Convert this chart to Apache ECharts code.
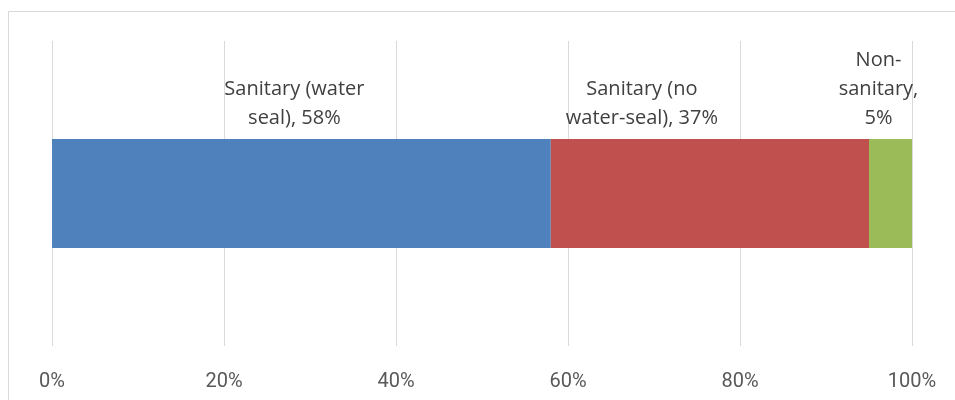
<!DOCTYPE html>
<html>
<head>
<meta charset="utf-8">
<script src="https://cdn.jsdelivr.net/npm/echarts@6/dist/echarts.min.js"></script>
<style>
  html, body { margin: 0; padding: 0; background: #fff; }
  #chart { width: 955px; height: 400px; }
</style>
</head>
<body>
<div id="chart"></div>
<script>
// data
var seriesNames = ['Sanitary (water seal)', 'Sanitary (no water-seal)', 'Non-sanitary'];
var labelText = ['Sanitary (water\nseal),', 'Sanitary (no\nwater-seal),', 'Non-\nsanitary,\n'];
var shares = [58, 37, 5];
var colors = ['#4F81BD', '#C0504D', '#9BBB59'];
var labelShift = [-7, -68, -12];
var tickValues = [0, 20, 40, 60, 80, 100];

var chart = echarts.init(document.getElementById('chart'));

var series = seriesNames.map(function (name, i) {
  return {
    name: name,
    type: 'bar',
    stack: 'total',
    barWidth: 109,
    itemStyle: { color: colors[i] },
    label: {
      show: true,
      position: 'top',
      distance: 6,
      offset: [labelShift[i], 0],
      align: 'center',
      color: '#404040',
      fontFamily: 'Open Sans',
      fontSize: 20,
      lineHeight: 29,
      formatter: function () {
        var sep = labelText[i].slice(-1) === '\n' ? '' : ' ';
        return labelText[i] + sep + shares[i] + '%';
      }
    },
    data: [shares[i]]
  };
});

var option = {
  animation: false,
  grid: {
    left: 52,
    right: 43,
    top: 41,
    bottom: 54,
    containLabel: false
  },
  graphic: [{
    type: 'rect',
    shape: { x: 8.5, y: 11.5, width: 960, height: 420 },
    style: { fill: 'none', stroke: '#d9d9d9', lineWidth: 1 },
    silent: true
  }],
  xAxis: {
    type: 'value',
    min: 0,
    max: 100,
    interval: 20,
    axisLine: { show: false },
    axisTick: { show: false },
    splitLine: { show: true, lineStyle: { color: '#d9d9d9', width: 1 } },
    axisLabel: {
      margin: 26,
      color: '#595959',
      fontFamily: 'Roboto',
      fontSize: 20,
      formatter: function (v) {
        return tickValues.indexOf(v) >= 0 ? v + '%' : '';
      }
    }
  },
  yAxis: {
    type: 'category',
    data: [''],
    axisLine: { show: false },
    axisTick: { show: false },
    axisLabel: { show: false }
  },
  series: series
};

chart.setOption(option);
</script>
</body>
</html>
